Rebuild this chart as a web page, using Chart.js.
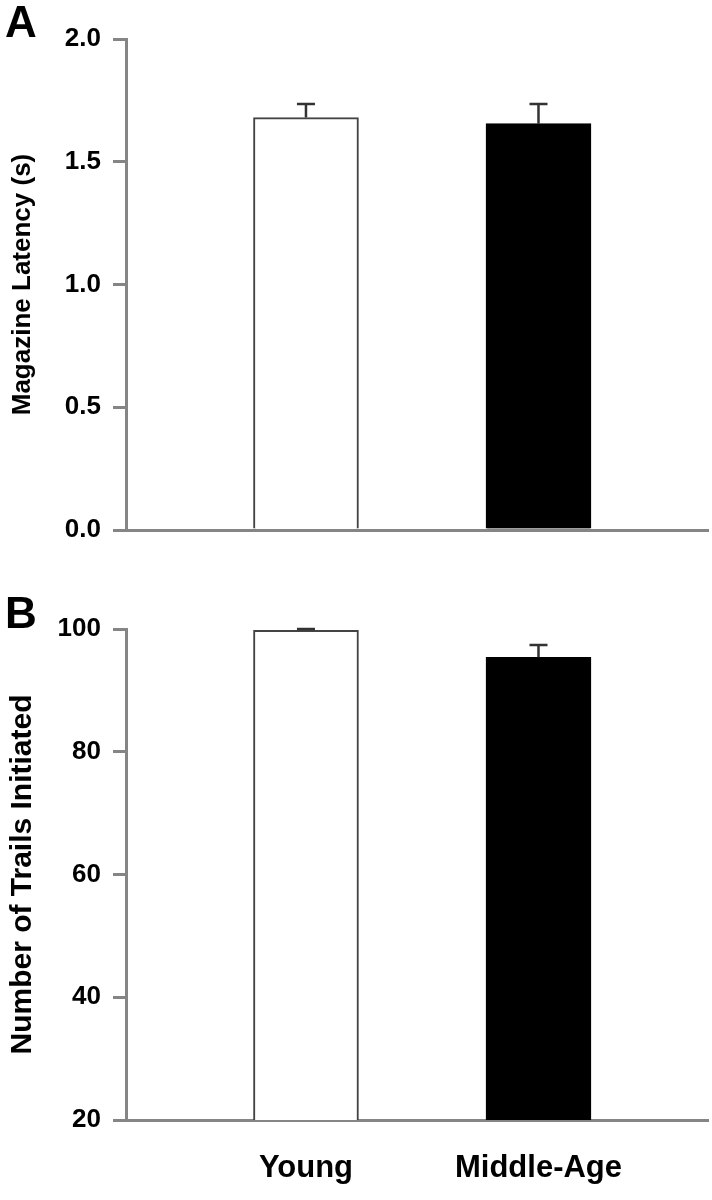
<!DOCTYPE html>
<html><head><meta charset="utf-8">
<script src="https://cdn.jsdelivr.net/npm/chart.js@4"></script>
<style>
html,body{margin:0;padding:0;background:#fff;}
#wrap{position:relative;width:712px;height:1200px;overflow:hidden;}
canvas{position:absolute;left:0;}
.lbl{position:absolute;font:bold 44px "Liberation Sans",Arial,sans-serif;line-height:1;color:#000;}
</style></head><body>
<div id="wrap">
<canvas id="cA" width="712" height="580" style="top:0"></canvas>
<canvas id="cB" width="712" height="620" style="top:580px"></canvas>
<div class="lbl" style="left:5px;top:0px">A</div>
<div class="lbl" style="left:5px;top:591px">B</div>
</div>
<script>
const categories = ['Young', 'Middle-Age'];
const latencyMeans = [1.68, 1.655];
const latencyErrors = [0.055, 0.08];
const trialsMeans = [99.8, 95.4];
const trialsErrors = [0.2, 2.0];
const latencyTicks = [0.0, 0.5, 1.0, 1.5, 2.0];
const trialsTicks = [20, 40, 60, 80, 100];

const FONT = '"Liberation Sans", Arial, sans-serif';
const AXIS = '#858585';

const errorBarPlugin = {
  id: 'errorBars',
  afterDatasetsDraw(chart, args, opts) {
    const meta = chart.getDatasetMeta(0);
    const ys = chart.scales.y;
    const ctx = chart.ctx;
    ctx.save();
    ctx.strokeStyle = '#333';
    ctx.lineWidth = 2.5;
    meta.data.forEach((bar, i) => {
      const v = opts.means[i], e = opts.errors[i];
      const yTop = ys.getPixelForValue(v + e);
      const yBar = ys.getPixelForValue(v);
      ctx.beginPath();
      ctx.moveTo(bar.x, yBar);
      ctx.lineTo(bar.x, yTop);
      ctx.moveTo(bar.x - 9, yTop);
      ctx.lineTo(bar.x + 9, yTop);
      ctx.stroke();
    });
    ctx.restore();
  }
};

function makeChart(id, means, errors, ticks, title, titleSize, titlePad, showX, padTop, xHeight, fmt) {
  return new Chart(document.getElementById(id), {
    type: 'bar',
    data: {
      datasets: [{
        data: categories.map((c, i) => ({ x: i, y: means[i] })),
        backgroundColor: ['#ffffff', '#000000'],
        borderColor: ['#444444', '#000000'],
        borderWidth: 2,
        barThickness: 105
      }]
    },
    options: {
      responsive: false,
      animation: false,
      events: [],
      layout: { padding: { top: padTop, right: 4, left: 0, bottom: 0 } },
      plugins: {
        legend: { display: false },
        tooltip: { enabled: false },
        errorBars: { means: means, errors: errors }
      },
      scales: {
        x: {
          type: 'linear',
          offset: false,
          min: -0.774,
          max: 1.729,
          afterBuildTicks: s => { s.ticks = categories.map((c, i) => ({ value: i })); },
          afterFit: s => { s.height = xHeight; },
          grid: { display: false },
          border: { display: true, color: AXIS, width: 3 },
          ticks: {
            display: showX,
            padding: 22,
            color: '#000',
            font: { family: FONT, size: 31, weight: 'bold' },
            callback: v => categories[v]
          }
        },
        y: {
          min: ticks[0],
          max: ticks[ticks.length - 1],
          afterBuildTicks: s => { s.ticks = ticks.map(v => ({ value: v })); },
          afterFit: s => { s.width = 126; },
          grid: { drawOnChartArea: false, tickLength: 13, color: AXIS, lineWidth: 3 },
          border: { display: true, color: AXIS, width: 3 },
          ticks: {
            padding: 12,
            color: '#000',
            font: { family: FONT, size: 26, weight: 'bold' },
            callback: fmt
          },
          title: {
            display: true,
            text: title,
            color: '#000',
            padding: { top: titlePad, bottom: 0 },
            font: { family: FONT, size: titleSize, weight: 'bold' }
          }
        }
      }
    },
    plugins: [errorBarPlugin]
  });
}

makeChart('cA', latencyMeans, latencyErrors, latencyTicks, 'Magazine Latency (s)', 26, 7, false, 39, 50, v => v.toFixed(1));
makeChart('cB', trialsMeans, trialsErrors, trialsTicks, 'Number of Trails Initiated', 30, 5, true, 49, 80, v => String(v));
</script>
</body></html>
